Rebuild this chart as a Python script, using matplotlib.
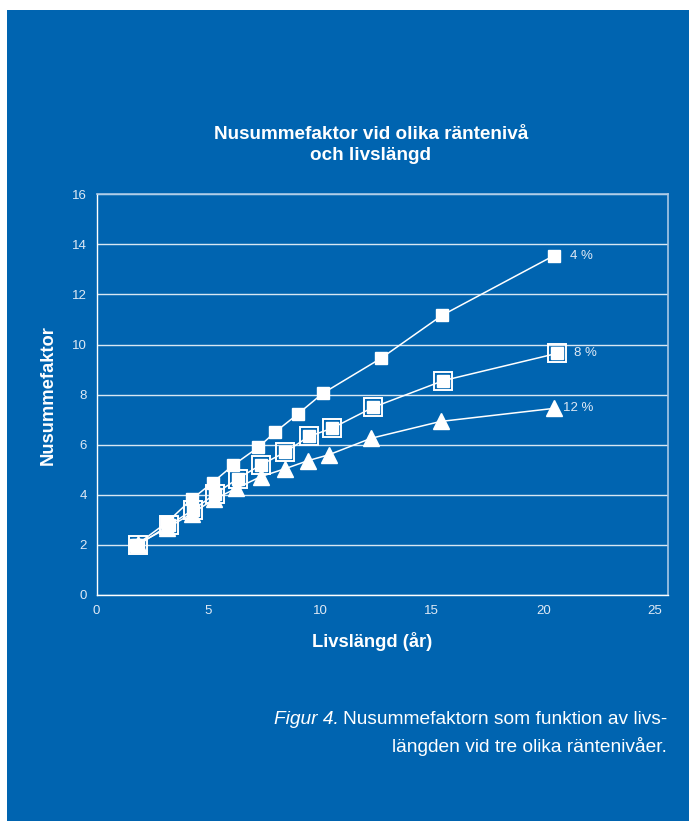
import matplotlib
matplotlib.use("Agg")
import matplotlib.pyplot as plt
from matplotlib.patches import Rectangle

plt.rcParams['font.family'] = ['Liberation Sans', 'DejaVu Sans']

BLUE = '#0064b0'
PALE = '#dfe9f5'

# livslängd (år) och nusummefaktor per räntenivå
x_4 = [1.78, 3.16, 4.25, 5.19, 6.11, 7.24, 8.00, 9.00, 10.12, 12.73, 15.47, 20.47]
y_4 = [2.00, 2.91, 3.82, 4.49, 5.18, 5.90, 6.51, 7.22, 8.05, 9.45, 11.17, 13.55]

x_8 = [1.86, 3.23, 4.30, 5.31, 6.33, 7.36, 8.42, 9.50, 10.52, 12.37, 15.52, 20.62]
y_8 = [2.00, 2.78, 3.39, 4.04, 4.65, 5.20, 5.69, 6.33, 6.65, 7.49, 8.56, 9.65]

x_12 = [1.86, 3.16, 4.25, 5.25, 6.26, 7.36, 8.43, 9.45, 10.40, 12.30, 15.40, 20.46]
y_12 = [2.05, 2.67, 3.25, 3.82, 4.26, 4.73, 5.04, 5.36, 5.60, 6.26, 6.93, 7.45]

series_labels = ['4 %', '8 %', '12 %']
x_ticks = [0, 5, 10, 15, 20, 25]
y_ticks = [0, 2, 4, 6, 8, 10, 12, 14, 16]

fig = plt.figure(figsize=(6.89, 8.21), dpi=100, facecolor='white')
fig.add_artist(Rectangle((7 / 689, 0), 1 - 7 / 689, (821 - 10) / 821,
                         transform=fig.transFigure, facecolor=BLUE,
                         edgecolor='none', zorder=-10))

ax = fig.add_axes([0.1403, 0.2753, 0.970 - 0.1403, 0.7633 - 0.2753])
ax.set_facecolor(BLUE)
ax.set_xlim(0, 25.6)
ax.set_ylim(0, 16)
ax.set_xticks(x_ticks)
ax.set_yticks(y_ticks)
ax.tick_params(length=0, colors=PALE, labelsize=9.5, pad=7)

ax.grid(axis='y', color='white', lw=1.0, alpha=0.85, zorder=1)
for side in ['left', 'bottom']:
    ax.spines[side].set_color('white')
    ax.spines[side].set_linewidth(1.0)
for side in ['top', 'right']:
    ax.spines[side].set_color('#a9c8e6')
    ax.spines[side].set_linewidth(1.2)

line_kw = dict(color='white', lw=1.1, zorder=3)

# 12 %: trianglar
ax.plot(x_12, y_12, marker='^', markersize=11, markerfacecolor='white',
        markeredgecolor='white', **line_kw)
# 8 %: fylld kvadrat i öppen ram
ax.plot(x_8, y_8, marker='s', markersize=8.5, markerfacecolor='white',
        markeredgecolor='white', **line_kw)
ax.plot(x_8, y_8, ls='none', marker='s', markersize=12.5, markerfacecolor='none',
        markeredgecolor='white', markeredgewidth=1.4, zorder=4)
# 4 %: fyllda kvadrater
ax.plot(x_4, y_4, marker='s', markersize=9, markerfacecolor='white',
        markeredgecolor='white', **line_kw)

ax.annotate(series_labels[0], (x_4[-1], y_4[-1]), xytext=(12, 0),
            textcoords='offset points', va='center', ha='left', color=PALE, fontsize=9.5)
ax.annotate(series_labels[1], (x_8[-1], y_8[-1]), xytext=(12, 0),
            textcoords='offset points', va='center', ha='left', color=PALE, fontsize=9.5)
ax.annotate(series_labels[2], (x_12[-1], y_12[-1]), xytext=(7, 0),
            textcoords='offset points', va='center', ha='left', color=PALE, fontsize=9.5)

fig.text(371 / 689, 1 - 145 / 821, 'Nusummefaktor vid olika räntenivå\noch livslängd',
         ha='center', va='center', color='white', fontsize=13.6, fontweight='bold',
         linespacing=1.32)
ax.set_xlabel('Livslängd (år)', color='white', fontsize=13.2, fontweight='bold')
ax.xaxis.set_label_coords(0.482, -0.092)
ax.set_ylabel('Nusummefaktor', color='white', fontsize=13.2, fontweight='bold', labelpad=11)

# figurtext, högerställd
cap_size = 13.8
line1 = fig.text(667 / 689, 1 - 719 / 821, 'Nusummefaktorn som funktion av livs-',
                 ha='right', va='center', color='white', fontsize=cap_size)
fig.canvas.draw()
first = line1.get_window_extent(fig.canvas.get_renderer())
fig.text(first.x0 / fig.bbox.width - 4 / 689, 1 - 719 / 821, 'Figur 4.',
         ha='right', va='center', color='white', fontsize=cap_size, style='italic')
fig.text(667 / 689, 1 - 746 / 821, 'längden vid tre olika räntenivåer.',
         ha='right', va='center', color='white', fontsize=cap_size)

fig.savefig('out.png', dpi=100, facecolor='white')
